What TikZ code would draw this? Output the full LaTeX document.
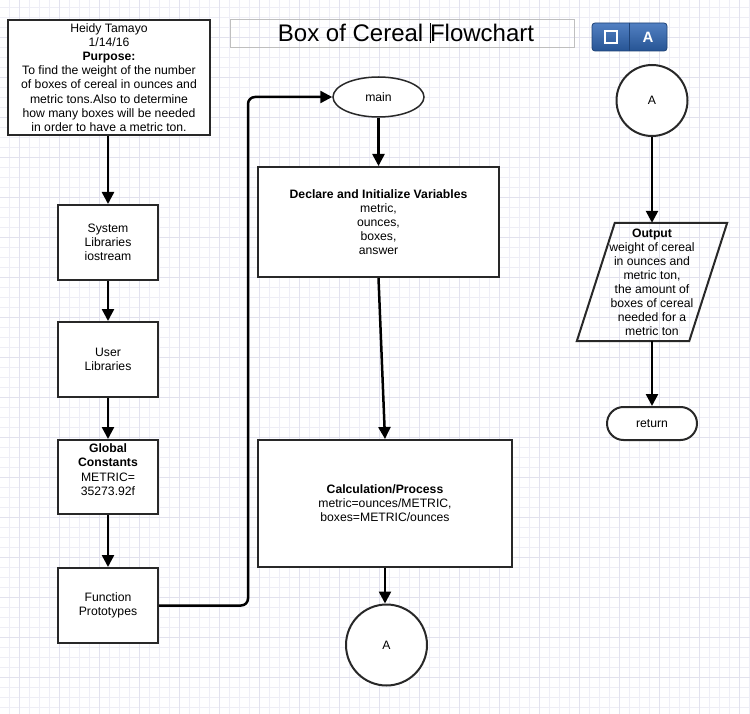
\documentclass[tikz,border=0pt]{standalone}
\usepackage{fontspec}
\setmainfont{Liberation Sans}
\usetikzlibrary{shapes,arrows.meta,positioning,calc}
\definecolor{gridlo}{RGB}{238,238,246}
\definecolor{gridhi}{RGB}{226,226,238}
\definecolor{boxline}{RGB}{40,40,40}
\definecolor{btntop}{RGB}{82,128,194}
\definecolor{btnbot}{RGB}{38,84,148}
\definecolor{btnedge}{RGB}{30,66,118}

\begin{document}
\begin{tikzpicture}[x=1pt,y=-1pt,
    box/.style={draw=boxline,line width=2pt,fill=white,align=center,inner sep=0pt,font=\fontsize{12.2}{14.1}\selectfont},
    flow/.style={line width=2.5pt,-{Triangle[width=12pt,length=12pt]}}]
       \useasboundingbox[fill=white] (0,0) rectangle (750,714);
       \foreach \x in {9,19,...,749} \draw[gridlo,line width=0.6pt] (\x,0) -- (\x,714);
       \foreach \y in {7,17,...,713} \draw[gridlo,line width=0.6pt] (0,\y) -- (750,\y);
       \foreach \x in {19,59,...,739} \draw[gridhi,line width=0.8pt] (\x,0) -- (\x,714);
       \foreach \y in {37,77,...,713} \draw[gridhi,line width=0.8pt] (0,\y) -- (750,\y);
       \node[box,minimum width=202,minimum height=115] (purp) at (109,77.5) {Heidy Tamayo\\1/14/16\\\textbf{Purpose:}\\To find the weight of the number\\of boxes of cereal in ounces and\\metric tons.Also to determine\\how many boxes will be needed\\in order to have a metric ton.};
       \node[box,minimum width=100,minimum height=75] (sys) at (108,242.5) {System\\Libraries\\iostream};
       \node[box,minimum width=100,minimum height=75] (user) at (108,359.5) {User\\Libraries};
       \node[box,minimum width=100,minimum height=74] (glob) at (108,477) {\parbox[c][66pt][t]{96pt}{\centering\textbf{Global}\\\textbf{Constants}\\METRIC=\\35273.92f}};
       \node[box,minimum width=100,minimum height=75] (func) at (108,605.5) {Function\\Prototypes};
       \node[draw=black!25,line width=0.8pt,minimum width=344,minimum height=28,inner sep=0pt,font=\fontsize{24}{26}\selectfont] (title) at (402,33) {\raisebox{-9pt}[0pt][0pt]{\hspace*{8pt}Box of Cereal \makebox[0pt]{\rule[-1pt]{0.9pt}{20pt}}Flowchart}};
       \node[draw=btnedge,line width=0.8pt,rounded corners=3pt,top color=btntop,bottom color=btnbot,minimum width=75,minimum height=28] (btn) at (629.5,37) {};
       \draw[btnedge,line width=0.8pt] (btn.north) -- (btn.south);
       \node[draw=white,line width=1.2pt,minimum size=12,inner sep=0pt] (sq) at ([xshift=-18.5]btn.center) {};
       \node[white,inner sep=0pt,font=\fontsize{15}{15}\bfseries] (btnA) at ([xshift=18.5]btn.center) {A};
       \node[box,ellipse,line width=1.5pt,minimum width=91,minimum height=40] (main) at (378.5,97) {main};
       \node[box,minimum width=241,minimum height=110] (decl) at (378.5,222) {\textbf{Declare and Initialize Variables}\\metric,\\ounces,\\boxes,\\answer};
       \node[box,minimum width=254,minimum height=127] (calc) at (385,503.5) {\textbf{Calculation/Process}\\metric=ounces/METRIC,\\boxes=METRIC/ounces};
       \node[box,circle,minimum size=81] (conA) at (386.5,645) {A};
       \node[box,circle,minimum size=71] (conB) at (652,100.5) {A};
       \node[align=center,inner sep=0pt,minimum width=112,minimum height=118,font=\fontsize{12.2}{14}\selectfont] (out) at (652,282) {\textbf{Output}\\weight of cereal\\in ounces and\\metric ton,\\the amount of\\boxes of cereal\\needed for a\\metric ton};
       \draw[draw=boxline,line width=2pt] ([xshift=19]out.north west) -- ([xshift=19]out.north east) -- ([xshift=-19]out.south east) -- ([xshift=-19]out.south west) -- cycle;
       \node[box,rounded rectangle,minimum width=90,minimum height=33] (ret) at (652,423.5) {return};
       \draw[flow] (sys.north |- purp.south) -- (sys.north);
       \draw[flow] (sys) -- (user);
       \draw[flow] (user) -- (glob);
       \draw[flow] (glob) -- (func);
       \draw[flow,rounded corners=7pt] (func.east) -- ++(89,0) |- (main.west);
       \draw[flow] (main) -- (decl);
       \draw[flow] (decl.south) -- (calc.north);
       \draw[flow] (calc.south) -- (conA.north -| calc.south);
       \draw[flow] (conB) -- (out.north);
       \draw[flow] (out.south) -- (ret.north);
     \end{tikzpicture}
\end{document}
